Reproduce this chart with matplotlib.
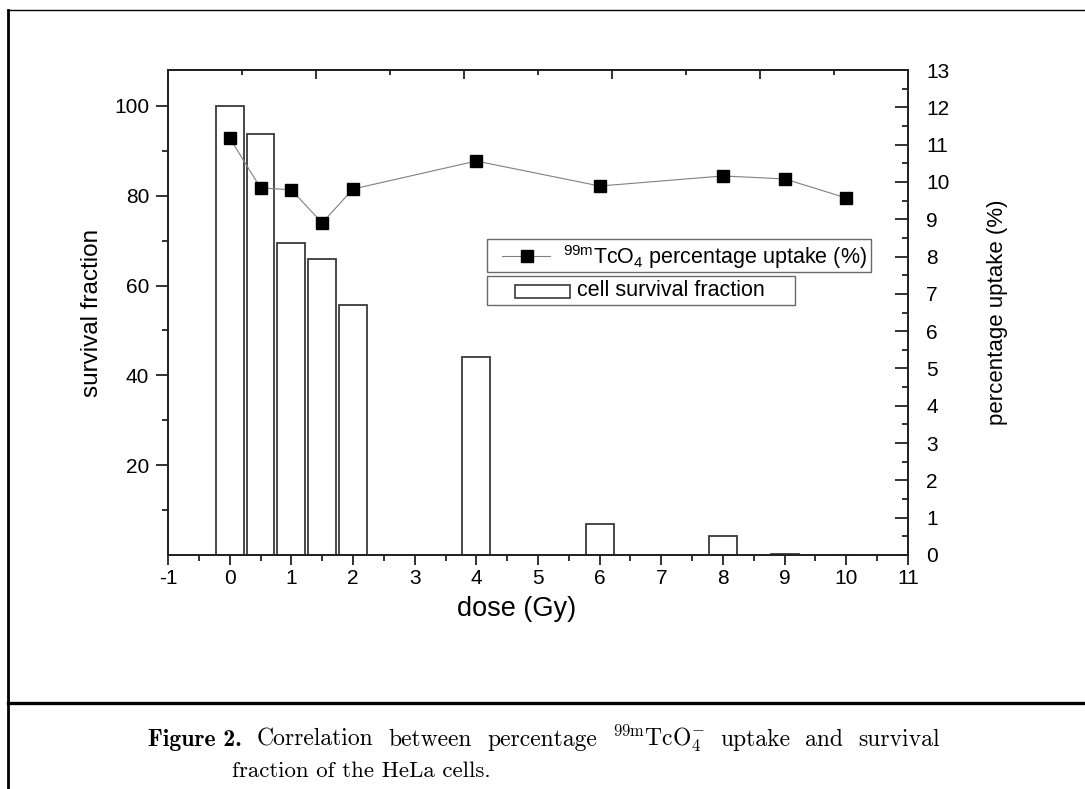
"""Dose vs survival fraction and 99mTcO4 uptake."""

import matplotlib
matplotlib.use("Agg")
import matplotlib.pyplot as plt
from matplotlib.lines import Line2D
from matplotlib.patches import Rectangle
import numpy as np

dose = [0, 0.5, 1, 1.5, 2, 4, 6, 8, 9, 10]
survival = [100, 93.8, 69.5, 66.0, 55.7, 44.0, 6.8, 4.3, 0.3, 0.1]
uptake = [11.18, 9.84, 9.79, 8.9, 9.81, 10.56, 9.89, 10.16, 10.08, 9.57]

xticks = list(range(-1, 12))
left_ticks = [20, 40, 60, 80, 100]
right_ticks = list(range(0, 14))

W, H = 1085, 789

plt.rcParams["font.family"] = ["Liberation Sans", "DejaVu Sans"]
plt.rcParams["axes.unicode_minus"] = False
plt.rcParams["mathtext.fontset"] = "custom"
plt.rcParams["mathtext.rm"] = "Liberation Sans"
plt.rcParams["mathtext.it"] = "Liberation Sans:italic"
plt.rcParams["mathtext.bf"] = "Liberation Sans:bold"


def fx(x):
    return x / W


def fy(y):
    return 1 - y / H


fig = plt.figure(figsize=(W / 100, H / 100), dpi=100)
ax = fig.add_axes([fx(168), fy(555), fx(908) - fx(168), fy(70) - fy(555)])
ax2 = ax.twinx()

spine_c = "#222222"
ax.bar(dose, survival, width=0.45, facecolor="white", edgecolor="#3a3a3a",
       linewidth=1.3, zorder=2)
ax.set_xlim(-1, 11)
ax.set_ylim(0, 108)
ax.set_xticks(xticks)
ax.set_xticks(np.arange(-0.5, 11, 1.0), minor=True)
ax.set_yticks(left_ticks)
ax.set_yticks([10, 30, 50, 70, 90], minor=True)
ax.tick_params(axis="both", which="both", direction="out", width=1.3,
               color=spine_c, labelsize=15)
ax.tick_params(axis="x", which="major", length=7, pad=3)
ax.tick_params(axis="x", which="minor", length=4.5)
ax.tick_params(axis="y", which="major", length=8.5, pad=5)
ax.tick_params(axis="y", which="minor", length=4)
ax.set_xlabel("dose (Gy)", fontsize=19.5)
ax.xaxis.set_label_coords((517 - 168) / 740, (555 - 596) / 485)
ax.set_ylabel("survival fraction", fontsize=17.5)
ax.yaxis.set_label_coords((103 - 168) / 740, 0.5)

ax2.plot(dose, uptake, color="#808080", linewidth=0.8, marker="s",
         markersize=9, markerfacecolor="black", markeredgecolor="black")
ax2.set_ylim(0, 13)
ax2.set_yticks(right_ticks)
ax2.set_yticks(np.arange(0.5, 13, 1.0), minor=True)
ax2.tick_params(axis="y", which="major", direction="in", length=9.5,
                width=1.3, labelsize=15, color=spine_c, pad=13)
ax2.tick_params(axis="y", which="minor", direction="in", length=4.5,
                width=1.3, color=spine_c)
ax2.set_ylabel("percentage uptake (%)", fontsize=16)
ax2.yaxis.set_label_coords((987 - 168) / 740, 0.5)

top = ax.secondary_xaxis("top")
top_pos = [-1 + 1.2 * k for k in range(11)]
top.set_xticks(top_pos[::2])
top.set_xticks(top_pos[1::2], minor=True)
top.set_xticklabels([])
top.tick_params(which="major", direction="in", length=6.5, width=1.3, color=spine_c)
top.tick_params(which="minor", direction="in", length=3.5, width=1.3, color=spine_c)

for a in (ax, ax2, top):
    for s in a.spines.values():
        s.set_linewidth(1.3)
        s.set_color(spine_c)

# legend boxes, drawn in figure pixels like the original
tf = fig.transFigure
box_c = "#6a6a6a"
fig.add_artist(Rectangle((fx(487), fy(272)), fx(871) - fx(487), fy(239) - fy(272),
                         facecolor="white", edgecolor=box_c, linewidth=1.0,
                         transform=tf))
fig.add_artist(Line2D([fx(502), fx(550)], [fy(256), fy(256)], color="#808080",
                      linewidth=0.8, transform=tf))
fig.add_artist(Line2D([fx(527)], [fy(256)], marker="s", markersize=9,
                      markerfacecolor="black", markeredgecolor="black",
                      linestyle="none", transform=tf))
fig.text(fx(563), fy(264), r"$^{\mathrm{99m}}$TcO$_{4}$ percentage uptake (%)",
         fontsize=15.5, va="baseline")

fig.add_artist(Rectangle((fx(487), fy(305)), fx(795) - fx(487), fy(276) - fy(305),
                         facecolor="white", edgecolor=box_c, linewidth=1.0,
                         transform=tf))
fig.add_artist(Rectangle((fx(515), fy(298)), fx(570) - fx(515), fy(285) - fy(298),
                         facecolor="white", edgecolor="#3a3a3a", linewidth=1.2,
                         transform=tf))
fig.text(fx(577), fy(296), "cell survival fraction", fontsize=15.5, va="baseline")

# page frame around the figure
fig.add_artist(Line2D([fx(8), fx(8)], [fy(10), fy(789)], color="black",
                      linewidth=2, transform=tf))
fig.add_artist(Line2D([fx(8), fx(1085)], [fy(10), fy(10)], color="black",
                      linewidth=1, transform=tf))
fig.add_artist(Line2D([fx(8), fx(1085)], [fy(703), fy(703)], color="black",
                      linewidth=2.4, transform=tf))

# caption, first line justified between x=148 and x=940 like the paper
words = [("Figure 2.", "cmb10"), ("Correlation", "cmr10"),
         ("between", "cmr10"), ("percentage", "cmr10"),
         (r"$^{\mathrm{99m}}$TcO$_4^{-}$", "cmr10"), ("uptake", "cmr10"),
         ("and", "cmr10"), ("survival", "cmr10")]
renderer = fig.canvas.get_renderer()
parts = []
for w, fam in words:
    t = fig.text(0, fy(746), w, fontsize=17, family=fam, math_fontfamily="cm",
                 va="baseline")
    parts.append((t, t.get_window_extent(renderer).width))
gap = (940 - 148 - sum(p[1] for p in parts)) / (len(parts) - 1)
x = 148
for t, wd in parts:
    t.set_x(fx(x))
    x += wd + gap
fig.text(fx(232), fy(777), "fraction of the HeLa cells.", fontsize=16.5,
         family="cmr10", va="baseline")

fig.savefig("out.png", dpi=100)
